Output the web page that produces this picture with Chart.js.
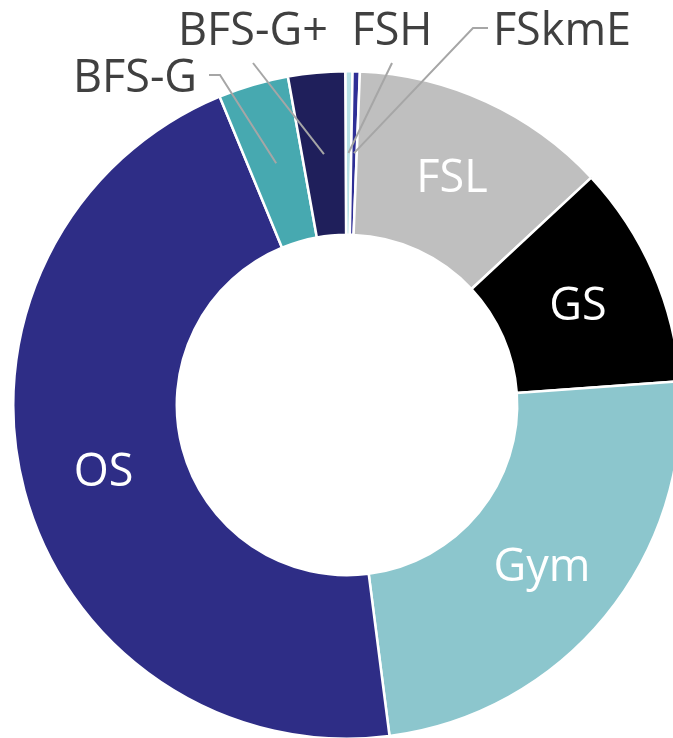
<!DOCTYPE html>
<html>
<head>
<meta charset="utf-8">
<script src="https://cdn.jsdelivr.net/npm/chart.js@4.4.1/dist/chart.umd.min.js"></script>
<style>
  html, body { margin: 0; padding: 0; background: #fff; overflow: hidden; }
  #wrap { position: relative; width: 700px; height: 740px; }
</style>
</head>
<body>
<div id="wrap"><canvas id="ringChart" width="700" height="740"></canvas></div>
<script>
// slice names and shares (%), clockwise from 12 o'clock
const labels = ['FSH', 'FSkmE', 'FSL', 'GS', 'Gym', 'OS', 'BFS-G', 'BFS-G+'];
const shares = [0.35, 0.35, 12.45, 10.8, 24.1, 45.8, 3.4, 2.75];
const colors = ['#b7e1e6', '#2f2f96', '#bfbfbf', '#000000', '#8cc6cd', '#2e2d86', '#47a9b0', '#1f1f5b'];

// which labels sit inside the ring, which go outside with a leader line
const insideLabels = ['FSL', 'GS', 'Gym', 'OS'];
// outside label placement relative to the ring centre: text centre, baseline, leader bends
const outsideLabels = {
  'BFS-G':  { x: -212, base: -313, line: [[-127, -330], [-138, -330]] },
  'BFS-G+': { x: -94,  base: -360, line: [[-94, -342]] },
  'FSH':    { x: 45,   base: -360, line: [[45, -342]] },
  'FSkmE':  { x: 215,  base: -360, line: [[126, -377], [141, -377]] }
};

const ringLabels = {
  id: 'ringLabels',
  afterDatasetsDraw(chart) {
    const ctx = chart.ctx;
    const arcs = chart.getDatasetMeta(0).data;
    ctx.save();
    ctx.font = '45px "Open Sans"';
    arcs.forEach((arc, i) => {
      const name = labels[i];
      const mid = (arc.startAngle + arc.endAngle) / 2;
      const r = (arc.innerRadius + arc.outerRadius) / 2;
      const ax = arc.x + r * Math.cos(mid);
      const ay = arc.y + r * Math.sin(mid);
      ctx.textAlign = 'center';
      ctx.textBaseline = 'alphabetic';
      if (insideLabels.includes(name)) {
        ctx.fillStyle = '#ffffff';
        ctx.fillText(name, ax, ay + 16);
      } else if (outsideLabels[name]) {
        const o = outsideLabels[name];
        ctx.strokeStyle = '#a6a6a6';
        ctx.lineWidth = 2;
        ctx.beginPath();
        ctx.moveTo(ax, ay);
        o.line.forEach(p => ctx.lineTo(arc.x + p[0], arc.y + p[1]));
        ctx.stroke();
        ctx.fillStyle = '#404040';
        ctx.fillText(name, arc.x + o.x, arc.y + o.base);
      }
    });
    ctx.restore();
  }
};

new Chart(document.getElementById('ringChart'), {
  type: 'doughnut',
  data: {
    labels: labels,
    datasets: [{
      data: shares,
      backgroundColor: colors,
      borderColor: '#ffffff',
      borderWidth: 2.5
    }]
  },
  options: {
    responsive: false,
    animation: false,
    rotation: -0.3,
    cutout: '51%',
    layout: { padding: { left: 12, right: 18, top: 70, bottom: 0 } },
    plugins: {
      legend: { display: false },
      tooltip: { enabled: false }
    }
  },
  plugins: [ringLabels]
});
</script>
</body>
</html>
